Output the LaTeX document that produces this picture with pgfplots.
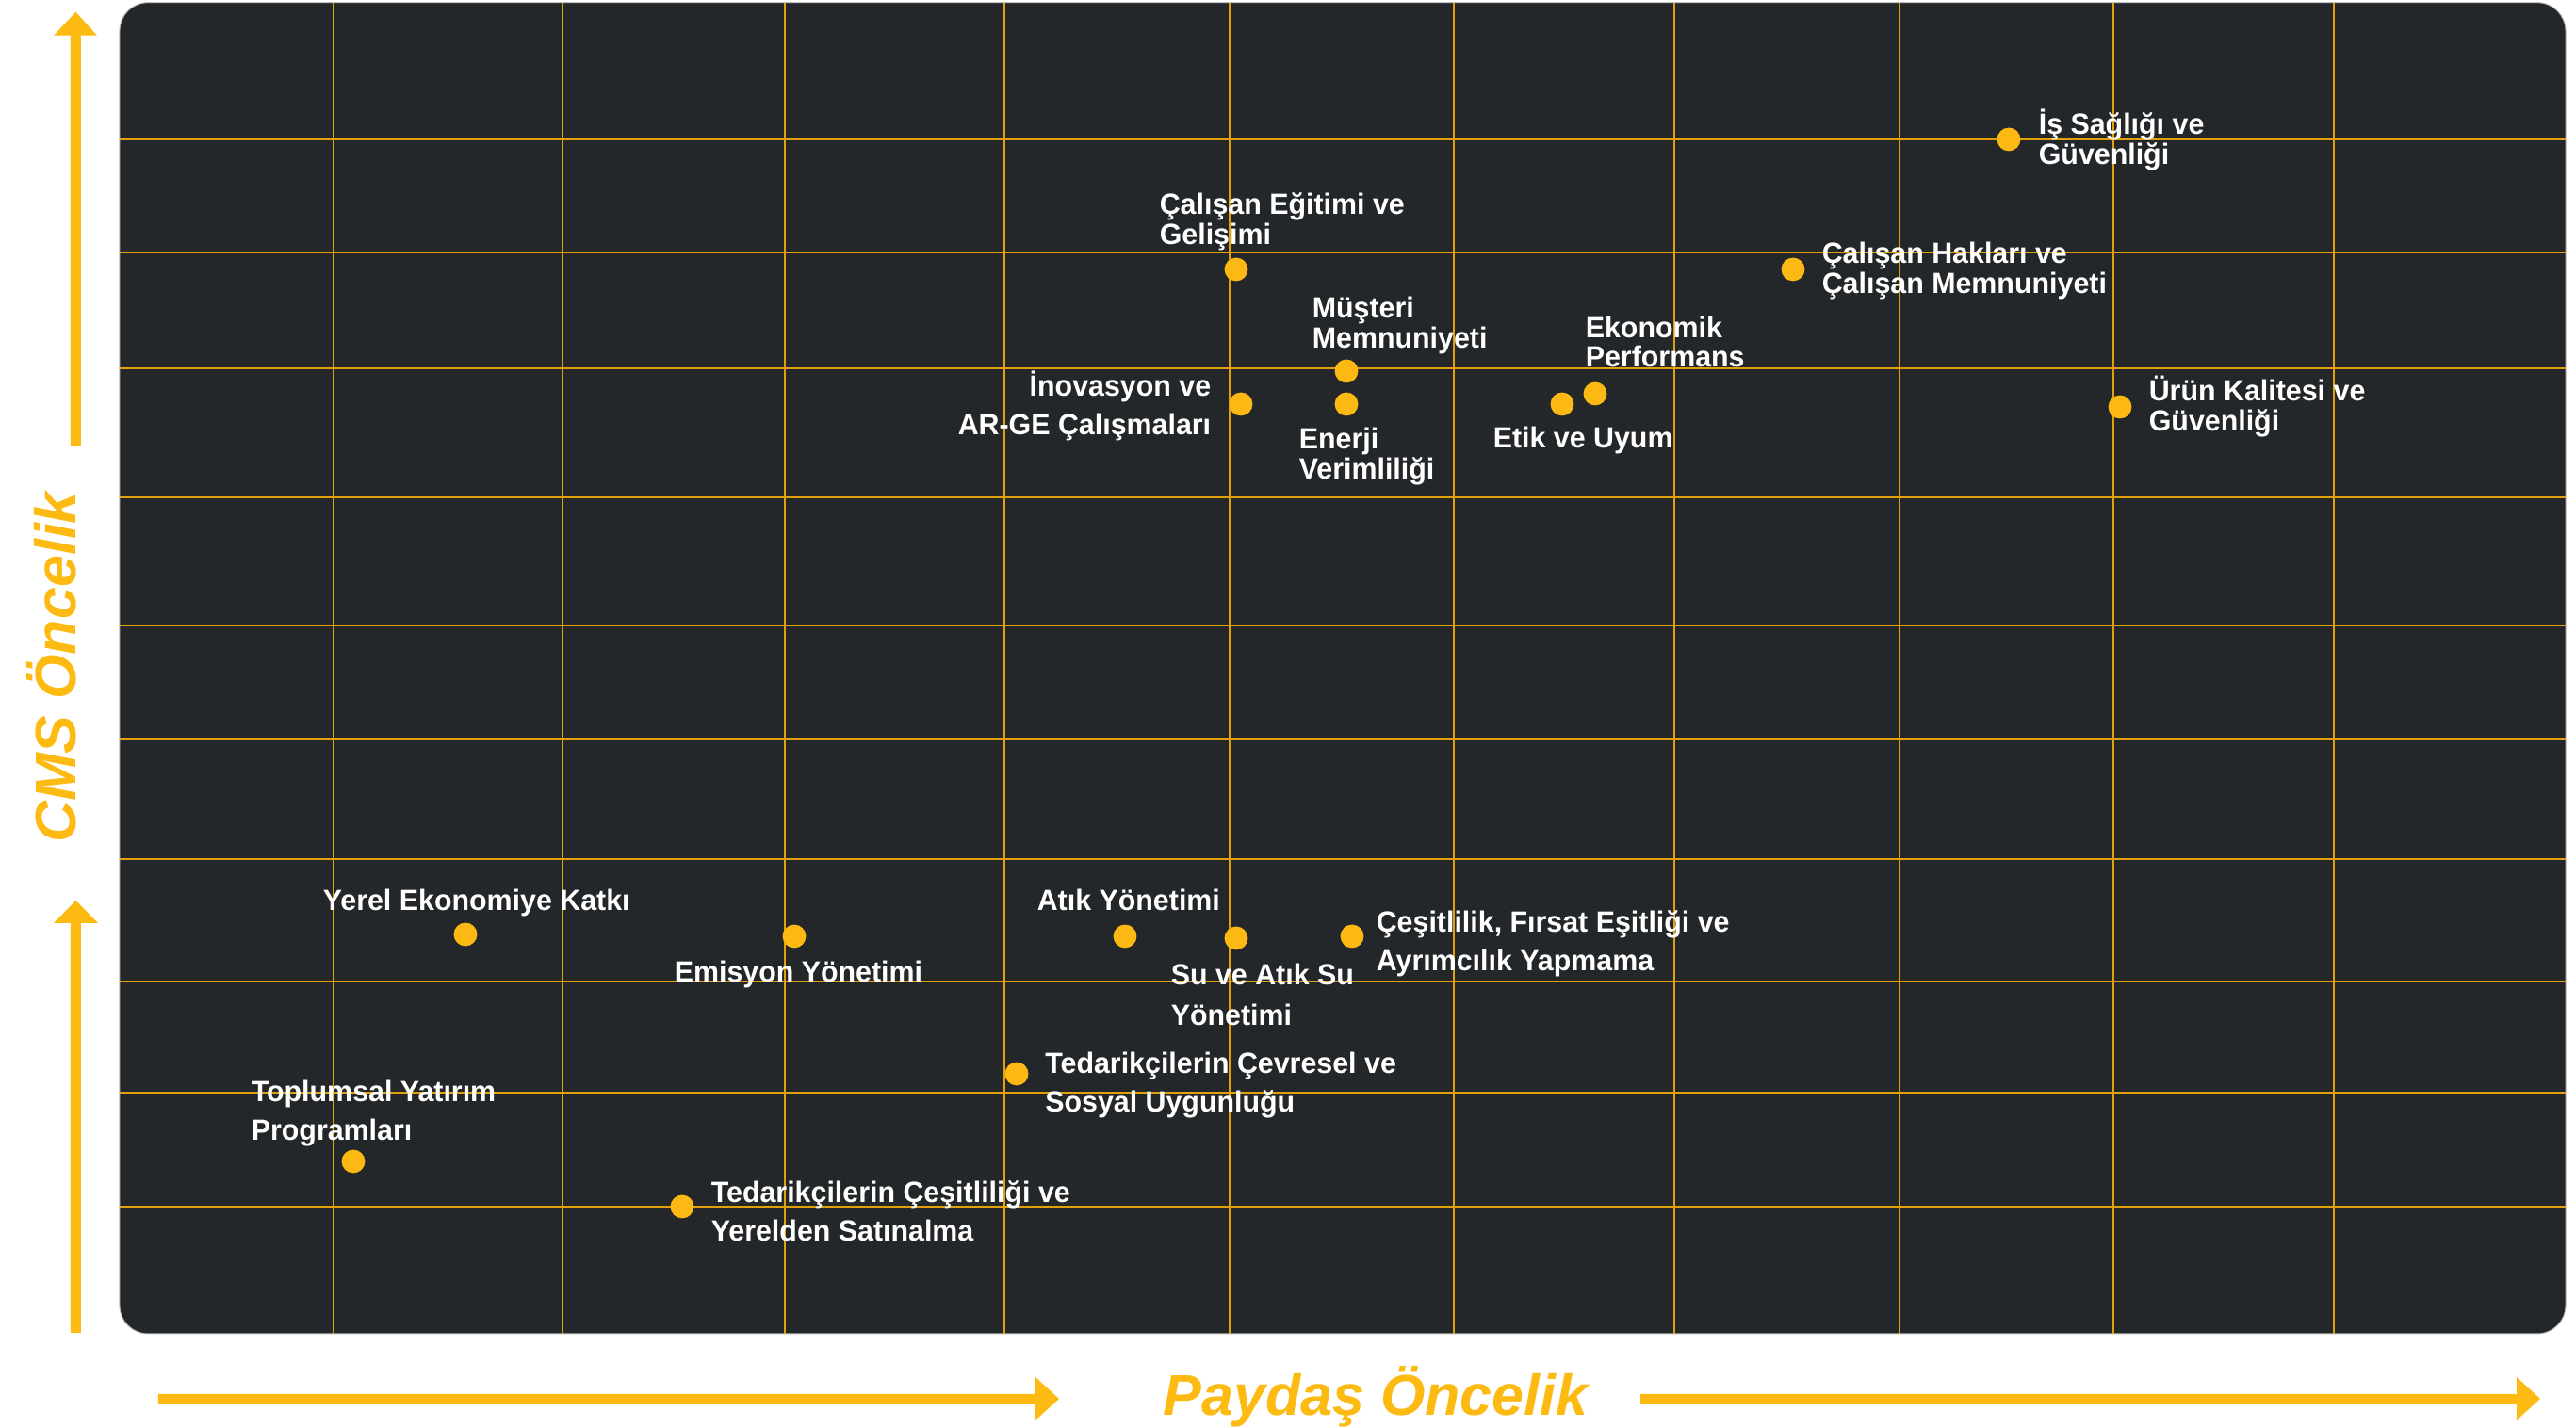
\documentclass[border=0pt]{standalone}
\usepackage{pgfplots}
\pgfplotsset{compat=1.18}
\usepackage{fontspec}
\setmainfont{Liberation Sans}
\newfontfamily\lblfont{Liberation Sans}[FakeStretch=0.98]
\newfontfamily\ttlfont{Liberation Sans}
\definecolor{panel}{RGB}{36,39,41}
\definecolor{gridy}{RGB}{228,160,10}
\definecolor{doty}{RGB}{253,185,19}
\definecolor{arry}{RGB}{252,186,18}
\newcommand{\lbl}[3]{\node[anchor=base west, inner sep=0pt, text=white, font=\lblfont\bfseries\fontsize{7.75}{9}\selectfont] at (axis cs:#1,#2) {#3};}
\newcommand{\lblr}[3]{\node[anchor=base east, inner sep=0pt, text=white, font=\lblfont\bfseries\fontsize{7.75}{9}\selectfont] at (axis cs:#1,#2) {#3};}
\begin{document}
\begin{tikzpicture}
\begin{axis}[
  set layers,
  scale only axis,
  width=649pt, height=353.325pt,
  xmin=127, xmax=2723, ymin=100, ymax=1513.3,
  clip=false,
  axis line style={draw=none},
  tick style={draw=none},
  xticklabels={}, yticklabels={},
  xtick={354,597,833,1066,1305,1543,1777,2016,2243,2477},
  ytick={235,356,474,604,731,852,988,1125,1248,1368},
  grid=major,
  major grid style={draw=gridy, line width=0.5pt},
]
\begin{pgfonlayer}{axis background}
\path (axis cs:0,0) rectangle (axis cs:2734,1516);
\fill[panel, draw={rgb,255:red,190;green,190;blue,190}, line width=0.25pt, rounded corners=7.5pt] (axis cs:127,100) rectangle (axis cs:2723,1513.3);
\end{pgfonlayer}

\addplot[only marks, mark=*, mark size=2.9pt, color=doty, mark options={draw=doty, fill=doty}] table {
x y
2132 1368
1312 1230
1903 1230
1429 1122
1317 1087
1429 1087
1658 1087
1693 1098
2250 1084
494 524
843 522
1194 522
1312 520
1435 522
1079 376
375 283
724 235
};

% labels
\lbl{2163}{1373.7}{İş Sağlığı ve}
\lbl{2163}{1341.7}{Güvenliği}
\lbl{1230}{1288}{Çalışan Eğitimi ve}
\lbl{1230}{1256.7}{Gelişimi}
\lbl{1933}{1236}{Çalışan Hakları ve}
\lbl{1933}{1204.3}{Çalışan Memnuniyeti}
\lbl{1392}{1178.3}{Müşteri}
\lbl{1392}{1146}{Memnuniyeti}
\lbl{1682}{1157.3}{Ekonomik}
\lbl{1682}{1126}{Performans}
\lblr{1286}{1095.3}{İnovasyon ve}
\lblr{1286}{1054.3}{AR-GE Çalışmaları}
\lbl{1378}{1039.3}{Enerji}
\lbl{1378}{1007.7}{Verimliliği}
\lbl{1584}{1040}{Etik ve Uyum}
\lbl{2280}{1090}{Ürün Kalitesi ve}
\lbl{2280}{1058.3}{Güvenliği}
\lbl{342}{549.3}{Yerel Ekonomiye Katkı}
\lbl{715}{473.3}{Emisyon Yönetimi}
\lbl{1100}{549.3}{Atık Yönetimi}
\lbl{1242}{470}{Su ve Atık Su}
\lbl{1242}{427.7}{Yönetimi}
\lbl{1460}{526}{Çeşitlilik, Fırsat Eşitliği ve}
\lbl{1460}{485}{Ayrımcılık Yapmama}
\lbl{1108.5}{376}{Tedarikçilerin Çevresel ve}
\lbl{1108.5}{335}{Sosyal Uygunluğu}
\lbl{266}{346.7}{Toplumsal Yatırım}
\lbl{266}{305}{Programları}
\lbl{754}{239.3}{Tedarikçilerin Çeşitliliği ve}
\lbl{754}{198.7}{Yerelden Satınalma}

% arrows
\fill[arry] (axis cs:75,1043) -- (axis cs:86,1043) -- (axis cs:86,1478.3) -- (axis cs:103,1478.3) -- (axis cs:80.5,1503.3) -- (axis cs:57,1478.3) -- (axis cs:75,1478.3) -- cycle;
\fill[arry] (axis cs:75,101) -- (axis cs:86,101) -- (axis cs:86,536) -- (axis cs:104,536) -- (axis cs:80.5,560) -- (axis cs:57,536) -- (axis cs:75,536) -- cycle;
\fill[arry] (axis cs:168,26) -- (axis cs:1099,26) -- (axis cs:1099,8.3) -- (axis cs:1124,31) -- (axis cs:1099,54) -- (axis cs:1099,36) -- (axis cs:168,36) -- cycle;
\fill[arry] (axis cs:1741,26) -- (axis cs:2671,26) -- (axis cs:2671,8.3) -- (axis cs:2696,31) -- (axis cs:2671,54) -- (axis cs:2671,36) -- (axis cs:1741,36) -- cycle;

% axis titles
\node[anchor=base, inner sep=0pt, text=arry, font=\ttlfont\bfseries\itshape\fontsize{15.25}{16}\selectfont] at (axis cs:1460,13) {Paydaş Öncelik};
\node[anchor=base, inner sep=0pt, rotate=90, text=arry, font=\ttlfont\bfseries\itshape\fontsize{15.25}{16}\selectfont] at (axis cs:81,807.5) {CMS Öncelik};
\end{axis}
\end{tikzpicture}
\end{document}
